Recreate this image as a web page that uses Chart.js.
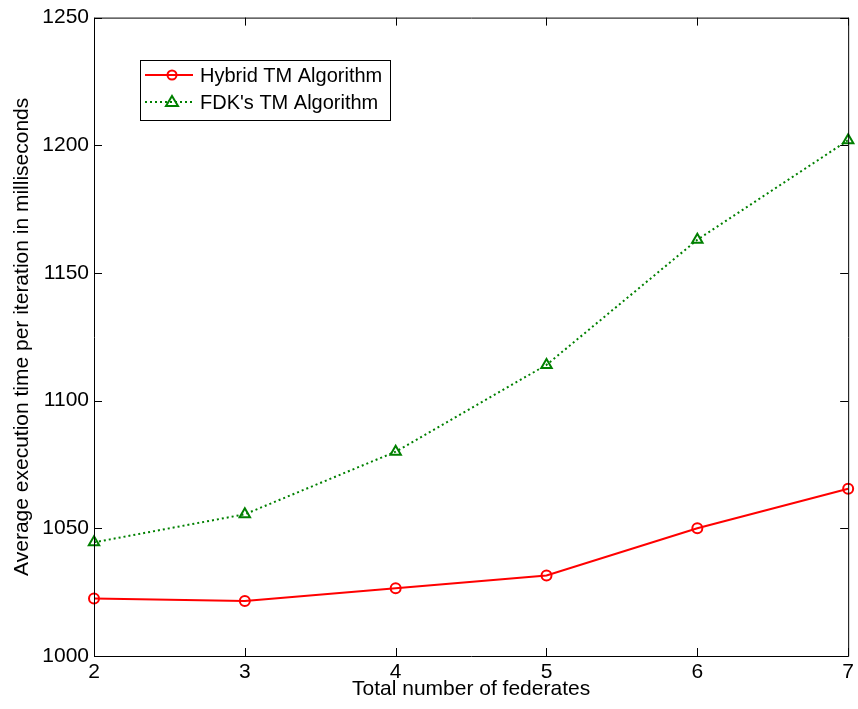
<!DOCTYPE html>
<html>
<head>
<meta charset="utf-8">
<script src="https://cdn.jsdelivr.net/npm/chart.js@4"></script>
<style>
  body { margin: 0; background: #fff; }
  #graph { display: block; }
</style>
</head>
<body>
<canvas id="graph" width="858" height="709"></canvas>
<script>
const federates = [2, 3, 4, 5, 6, 7];
const hybridTimes = [1022.5, 1021.5, 1026.5, 1031.5, 1050, 1065.5];
const fdkTimes = [1044.5, 1055.5, 1080, 1114, 1163, 1202];
const yTicks = [1000, 1050, 1100, 1150, 1200, 1250];

const FONT = "'Liberation Sans', Arial, sans-serif";

// inward ticks + box, like matlab
const framePlugin = {
    id: 'frame',
    afterDraw(chart){
        const ctx = chart.ctx;
        const a = chart.chartArea;
        const xs = chart.scales.x, ys = chart.scales.y;
        const len = 8;
        ctx.save();
        ctx.strokeStyle = '#000';
        ctx.lineWidth = 1;
        ctx.beginPath();
        ctx.rect(a.left + 0.5, a.top + 0.5, a.right - a.left, a.bottom - a.top);
        federates.forEach(v => {
            const px = Math.round(xs.getPixelForValue(v)) + 0.5;
            ctx.moveTo(px, a.bottom); ctx.lineTo(px, a.bottom - len);
            ctx.moveTo(px, a.top); ctx.lineTo(px, a.top + len);
        });
        yTicks.forEach(v => {
            const py = Math.round(ys.getPixelForValue(v)) + 0.5;
            ctx.moveTo(a.left, py); ctx.lineTo(a.left + len, py);
            ctx.moveTo(a.right, py); ctx.lineTo(a.right - len, py);
        });
        ctx.stroke();

        // legend box
        const bx = 140.5, by = 60.5, bw = 250, bh = 60;
        ctx.fillStyle = '#fff';
        ctx.fillRect(bx, by, bw, bh);
        ctx.strokeRect(bx, by, bw, bh);
        ctx.font = '20px ' + FONT;
        ctx.textBaseline = 'middle';
        const rows = [
            {label: 'Hybrid TM Algorithm', color: '#ff0000', dash: [], marker: 'circle'},
            {label: "FDK's TM Algorithm", color: '#008000', dash: [2, 3], marker: 'triangle'}
        ];
        rows.forEach((r, i) => {
            const y = 75 + i * 27;
            ctx.strokeStyle = r.color;
            ctx.lineWidth = 2;
            ctx.setLineDash(r.dash);
            ctx.beginPath();
            ctx.moveTo(145, y); ctx.lineTo(193, y);
            ctx.stroke();
            ctx.setLineDash([]);
            ctx.beginPath();
            if (r.marker === 'circle') {
                ctx.arc(172, y, 4.5, 0, Math.PI * 2);
            } else {
                ctx.moveTo(172, y - 6); ctx.lineTo(178, y + 4); ctx.lineTo(166, y + 4); ctx.closePath();
            }
            ctx.stroke();
            ctx.fillStyle = '#000';
            ctx.fillText(r.label, 200, y + 1);
        });
        ctx.restore();
    }
};

new Chart(document.querySelector('#graph').getContext('2d'), {
    type: 'line',
    data: {
        datasets: [
            {
                label: 'Hybrid TM Algorithm',
                data: federates.map((f, i) => ({x: f, y: hybridTimes[i]})),
                borderColor: '#ff0000',
                borderWidth: 2,
                pointStyle: 'circle',
                pointRadius: 5,
                pointBorderWidth: 2,
                pointBorderColor: '#ff0000',
                pointBackgroundColor: 'rgba(0,0,0,0)',
                tension: 0
            },
            {
                label: "FDK's TM Algorithm",
                data: federates.map((f, i) => ({x: f, y: fdkTimes[i]})),
                borderColor: '#008000',
                borderWidth: 2,
                borderDash: [2, 3],
                pointStyle: 'triangle',
                pointRadius: 6,
                pointBorderWidth: 2,
                pointBorderColor: '#008000',
                pointBackgroundColor: 'rgba(0,0,0,0)',
                tension: 0
            }
        ]
    },
    options: {
        responsive: false,
        animation: false,
        clip: false,
        layout: { padding: { left: 0, top: 16, right: 8, bottom: 0 } },
        plugins: {
            legend: { display: false },
            tooltip: { enabled: false }
        },
        scales: {
            x: {
                type: 'linear',
                min: 2, max: 7,
                afterFit(scale){ scale.height = 53; },
                grid: { display: false, drawTicks: false, tickLength: 0 },
                border: { display: false },
                ticks: {
                    stepSize: 1,
                    padding: 4,
                    color: '#000',
                    font: { family: FONT, size: 21 },
                    callback: v => String(v)
                },
                title: {
                    display: true,
                    text: 'Total number of federates',
                    color: '#000',
                    font: { family: FONT, size: 21 },
                    padding: { top: 0, bottom: 7 }
                }
            },
            y: {
                min: 1000, max: 1250,
                afterFit(scale){ scale.width = 94; },
                afterBuildTicks(scale){ scale.ticks = yTicks.map(v => ({value: v})); },
                grid: { display: false, drawTicks: false, tickLength: 0 },
                border: { display: false },
                ticks: {
                    padding: 5,
                    color: '#000',
                    font: { family: FONT, size: 21 },
                    callback: v => String(v)
                },
                title: {
                    display: true,
                    text: 'Average execution time per iteration in milliseconds',
                    color: '#000',
                    font: { family: FONT, size: 21 },
                    padding: { top: 10, bottom: 0 }
                }
            }
        }
    },
    plugins: [framePlugin]
});
</script>
</body>
</html>
